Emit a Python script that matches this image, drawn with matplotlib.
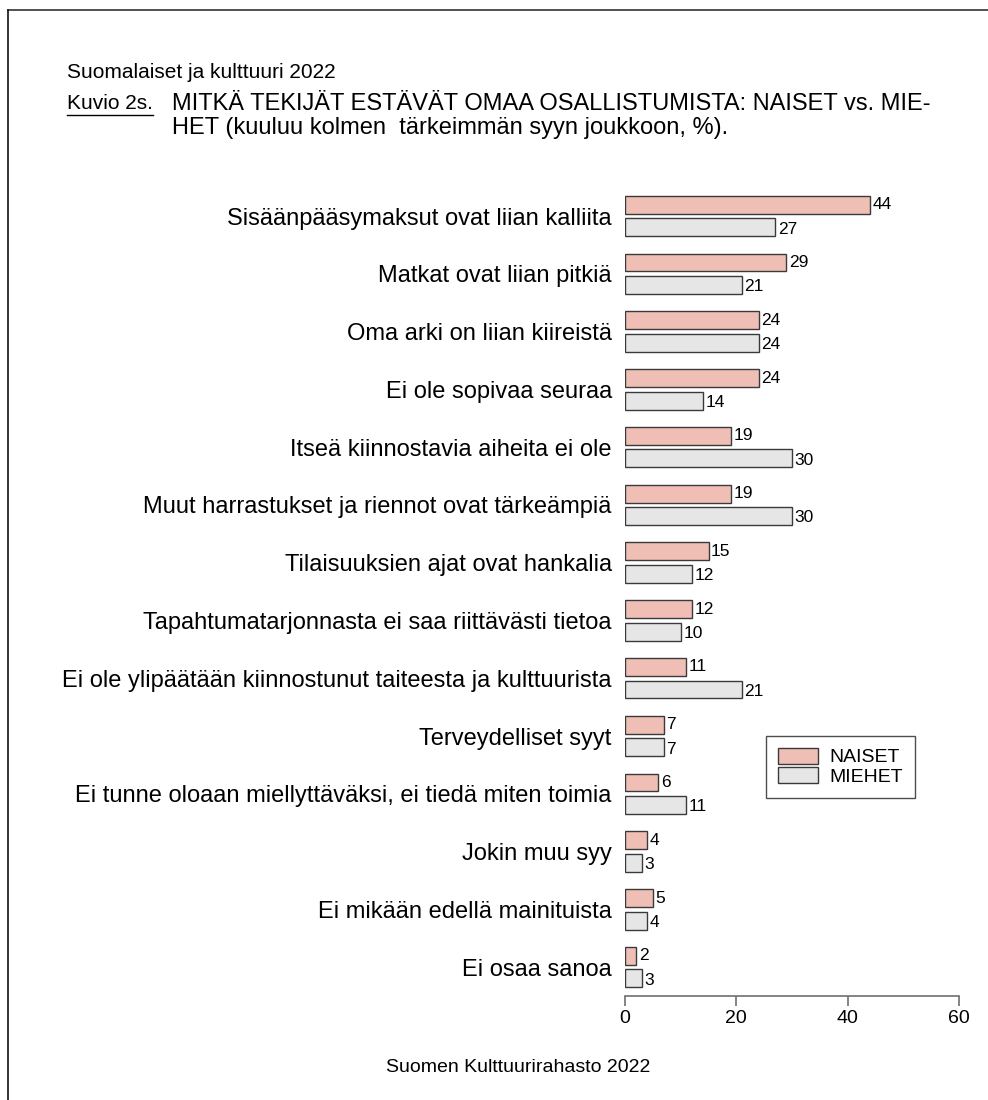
import matplotlib
matplotlib.use("Agg")
import matplotlib.pyplot as plt
from matplotlib.patches import Patch
from matplotlib.lines import Line2D
import numpy as np

plt.rcParams['font.family'] = ['Liberation Sans', 'DejaVu Sans']

categories = [
    "Sisäänpääsymaksut ovat liian kalliita",
    "Matkat ovat liian pitkiä",
    "Oma arki on liian kiireistä",
    "Ei ole sopivaa seuraa",
    "Itseä kiinnostavia aiheita ei ole",
    "Muut harrastukset ja riennot ovat tärkeämpiä",
    "Tilaisuuksien ajat ovat hankalia",
    "Tapahtumatarjonnasta ei saa riittävästi tietoa",
    "Ei ole ylipäätään kiinnostunut taiteesta ja kulttuurista",
    "Terveydelliset syyt",
    "Ei tunne oloaan miellyttäväksi, ei tiedä miten toimia",
    "Jokin muu syy",
    "Ei mikään edellä mainituista",
    "Ei osaa sanoa",
]
naiset = [44, 29, 24, 24, 19, 19, 15, 12, 11, 7, 6, 4, 5, 2]
miehet = [27, 21, 24, 14, 30, 30, 12, 10, 21, 7, 11, 3, 4, 3]
series_names = ["NAISET", "MIEHET"]
xticks = [0, 20, 40, 60]

W, H = 988, 1100
fig = plt.figure(figsize=(W / 100, H / 100), dpi=100)

def fx(px):
    return px / W

def fy(py):
    return 1 - py / H

# Axes placement
ax_left, ax_right = 625, 959
unit = 57.77
ax_top = 216 - 0.5 * unit
ax_bottom = 996
ax = fig.add_axes([fx(ax_left), fy(ax_bottom), fx(ax_right - ax_left), (ax_bottom - ax_top) / H])

pink = "#EFBFB6"
grey = "#E6E6E6"
edge = "#3a3a3a"
h = 0.31
off = 0.195
y = np.arange(len(categories))
ax.barh(y - off, naiset, height=h, color=pink, edgecolor=edge, linewidth=1.0)
ax.barh(y + off, miehet, height=h, color=grey, edgecolor=edge, linewidth=1.0)

for yy, v in zip(y - off, naiset):
    ax.text(v + 0.45, yy, str(v), va='center', ha='left', fontsize=12.5)
for yy, v in zip(y + off, miehet):
    ax.text(v + 0.45, yy + 0.03, str(v), va='center', ha='left', fontsize=12.5)

ax.set_xlim(0, 60)
ax.set_ylim(len(categories) - 0.5, -0.5)
ax.set_xticks(xticks)
ax.set_xticklabels([str(t) for t in xticks], fontsize=14)
ax.set_yticks(y)
ax.set_yticklabels(categories, fontsize=17)
ax.tick_params(axis='y', length=0, pad=9.5)
ax.tick_params(axis='x', length=7, width=1.2, color="#707070", pad=3)
for s in ['top', 'right', 'left']:
    ax.spines[s].set_visible(False)
ax.spines['bottom'].set_color("#707070")
ax.spines['bottom'].set_linewidth(1.2)
ax.spines['bottom'].set_bounds(0, 60)

leg = ax.legend([Patch(facecolor=pink, edgecolor=edge), Patch(facecolor=grey, edgecolor=edge)],
                series_names, loc='upper left',
                bbox_to_anchor=((766 - ax_left) / (ax_right - ax_left), 1 - (736 - ax_top) / (ax_bottom - ax_top)),
                fontsize=14, frameon=True, fancybox=False, handlelength=2.06, handleheight=0.88,
                labelspacing=0.05, borderpad=0.6, handletextpad=0.62, borderaxespad=0)
leg.get_frame().set_edgecolor("#222222")
leg.get_frame().set_linewidth(1.0)

# Titles
fig.text(fx(67), fy(72), "Suomalaiset ja kulttuuri 2022", fontsize=15, va='center', ha='left')
fig.text(fx(67), fy(104), "Kuvio 2s.", fontsize=15, va='center', ha='left')
fig.add_artist(Line2D([fx(67), fx(153)], [fy(115), fy(115)], color='black', linewidth=1.0))
fig.text(fx(172), fy(104), "MITKÄ TEKIJÄT ESTÄVÄT OMAA OSALLISTUMISTA: NAISET vs. MIE-", fontsize=17, va='center', ha='left')
fig.text(fx(172), fy(128), "HET (kuuluu kolmen  tärkeimmän syyn joukkoon, %).", fontsize=17, va='center', ha='left')
fig.text(fx(518), fy(1067), "Suomen Kulttuurirahasto 2022", fontsize=14, va='center', ha='center')

# Frame lines (top and left)
fig.add_artist(Line2D([fx(8), 1], [fy(10), fy(10)], color='#333333', linewidth=1.2))
fig.add_artist(Line2D([fx(8), fx(8)], [fy(10), 0], color='#111111', linewidth=1.2))

fig.savefig("out.png", dpi=100)
